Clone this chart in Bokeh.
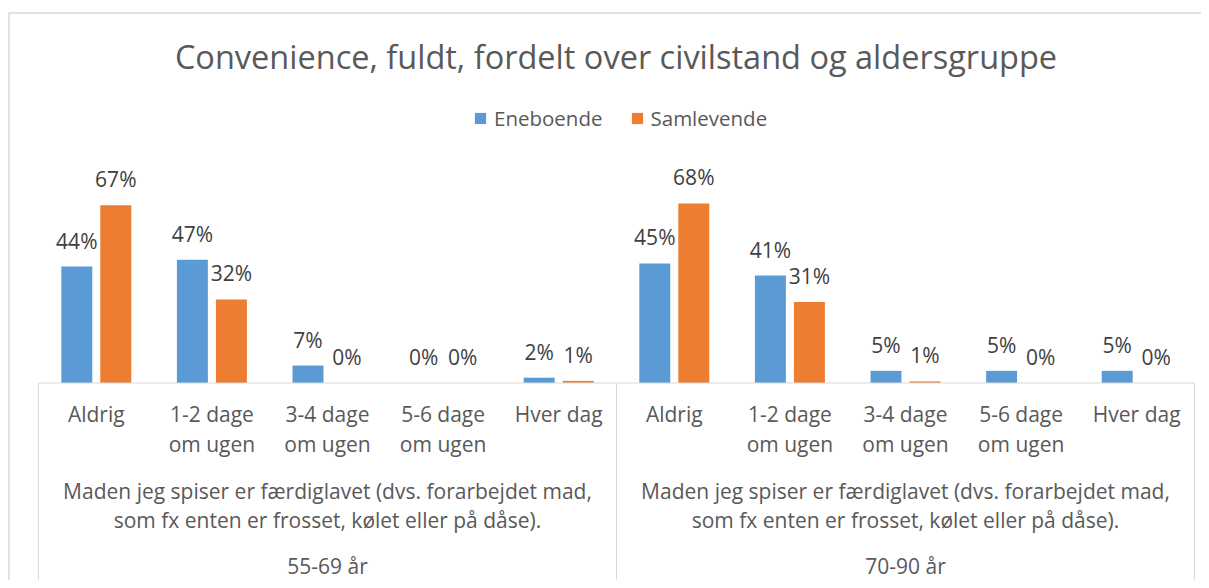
from bokeh.plotting import figure
from bokeh.models import Range1d, ColumnDataSource
from bokeh.core.properties import value
from bokeh.embed import file_html
from bokeh.resources import INLINE

# ---------------- data ----------------
chart_title = "Convenience, fuldt, fordelt over civilstand og aldersgruppe"
series_names = ["Eneboende", "Samlevende"]
age_groups = ["55-69 år", "70-90 år"]
question_lines = ["Maden jeg spiser er færdiglavet (dvs. forarbejdet mad,",
                  "som fx enten er frosset, kølet eller på dåse)."]
categories = ["Aldrig", "1-2 dage\nom ugen", "3-4 dage\nom ugen", "5-6 dage\nom ugen", "Hver dag"]
eneboende_55_69 = [44.0, 46.6, 6.6, 0.0, 2.0]
samlevende_55_69 = [67.2, 31.6, 0.0, 0.0, 0.8]
eneboende_70_90 = [45.2, 40.6, 4.6, 4.6, 4.6]
samlevende_70_90 = [67.9, 30.6, 0.6, 0.0, 0.0]

# ---------------- styles ----------------
BLUE = "#5B9BD5"
ORANGE = "#ED7D31"
GRID = "#D9D9D9"
TXT = "#595959"
LBL = "#404040"
FONT = value("Open Sans")

W, H = 1201, 580
PAGE_L, PAGE_T = 0, 0
PAGE_R, PAGE_B = PAGE_L + W, PAGE_T + H
AX_L, AX_R = 38, 1194
BASE = 382.5
K = 2.645  # px per percent

n_cat = len(categories) * len(age_groups)
unit = (AX_R - AX_L) / n_cat
x_range = Range1d(-(AX_L - PAGE_L) / unit, n_cat + (PAGE_R - AX_R) / unit)
y_range = Range1d(-(PAGE_B - BASE) / K, (BASE - PAGE_T) / K)

p = figure(width=W, height=H, x_range=x_range, y_range=y_range,
           output_backend="svg", toolbar_location=None,
           x_axis_location=None, y_axis_location=None,
           min_border=0, outline_line_color=None)
p.grid.visible = False
p.extra_x_ranges = {"px": Range1d(PAGE_L, PAGE_R)}
p.extra_y_ranges = {"py": Range1d(PAGE_B, PAGE_T)}

# ---------------- bars ----------------
xs, ene, sam = [], [], []
groups = [(eneboende_55_69, samlevende_55_69), (eneboende_70_90, samlevende_70_90)]
for g, (e_vals, s_vals) in enumerate(groups):
    for i in range(len(categories)):
        xs.append(g * len(categories) + i + 0.5)
        ene.append(e_vals[i])
        sam.append(s_vals[i])

off = 0.1687
bw = 0.268
src_e = ColumnDataSource(dict(x=[x - off for x in xs], top=ene,
                              lab=["%d%%" % int(v + 0.5) for v in ene]))
src_s = ColumnDataSource(dict(x=[x + off for x in xs], top=sam,
                              lab=["%d%%" % int(v + 0.5) for v in sam]))

r_e = p.vbar(x="x", top="top", bottom=0, width=bw, source=src_e,
             fill_color=BLUE, line_color=None, legend_label=series_names[0])
r_s = p.vbar(x="x", top="top", bottom=0, width=bw, source=src_s,
             fill_color=ORANGE, line_color=None, legend_label=series_names[1])

for src in (src_e, src_s):
    p.text(x="x", y="top", text="lab", source=src, y_offset=-26,
           text_align="center", text_baseline="alphabetic",
           text_font=FONT, text_font_size=value("21px"), text_color=LBL)

# ---------------- axis lines ----------------
p.segment(x0=[0], y0=[0], x1=[n_cat], y1=[0], line_color=GRID, line_width=1)
seps = [g * len(categories) for g in range(len(age_groups) + 1)]
p.segment(x0=seps, y0=[0] * len(seps), x1=seps, y1=[y_range.start] * len(seps),
          line_color=GRID, line_width=1)

# ---------------- category labels ----------------
cx1, cy1, ct1 = [], [], []
for g in range(len(age_groups)):
    for i, c in enumerate(categories):
        for j, line in enumerate(c.split("\n")):
            cx1.append(g * len(categories) + i + 0.5)
            cy1.append(413.0 + 30 * j)
            ct1.append(line)
src_c = ColumnDataSource(dict(x=cx1, y=cy1, t=ct1))
p.text(x="x", y="y", text="t", source=src_c, y_range_name="py",
       text_align="center", text_baseline="alphabetic",
       text_font=FONT, text_font_size=value("21px"), text_color=TXT)

gx, gy, gt = [], [], []
for g, age in enumerate(age_groups):
    center = g * len(categories) + len(categories) / 2
    for j, line in enumerate(question_lines):
        gx.append(center); gy.append(490.5 + 28.5 * j); gt.append(line)
    gx.append(center); gy.append(565.0); gt.append(age)
src_g = ColumnDataSource(dict(x=gx, y=gy, t=gt))
p.text(x="x", y="y", text="t", source=src_g, y_range_name="py",
       text_align="center", text_baseline="alphabetic",
       text_font=FONT, text_font_size=value("21px"), text_color=TXT)

# ---------------- title ----------------
p.text(x=[615.5], y=[55.5], text=[chart_title], x_range_name="px", y_range_name="py",
       text_align="center", text_baseline="alphabetic",
       text_font=FONT, text_font_size=value("32.5px"), text_color=TXT)

# ---------------- outer border ----------------
p.segment(x0=[8.5, 8], y0=[PAGE_B, 12.5], x1=[8.5, PAGE_R], y1=[12.5, 12.5],
          x_range_name="px", y_range_name="py", line_color=GRID, line_width=1.5)

# ---------------- legend ----------------
lg = p.legend[0]
lg.orientation = "horizontal"
lg.location = (473, 448)
lg.glyph_width = 14
lg.glyph_height = 14
lg.label_standoff = 7
lg.spacing = 27
lg.padding = 0
lg.margin = 0
lg.border_line_color = None
lg.background_fill_alpha = 0
lg.label_text_font = "Open Sans"
lg.label_text_font_size = "20.5px"
lg.label_text_color = TXT

open("out.html", "w").write(file_html(p, INLINE))
